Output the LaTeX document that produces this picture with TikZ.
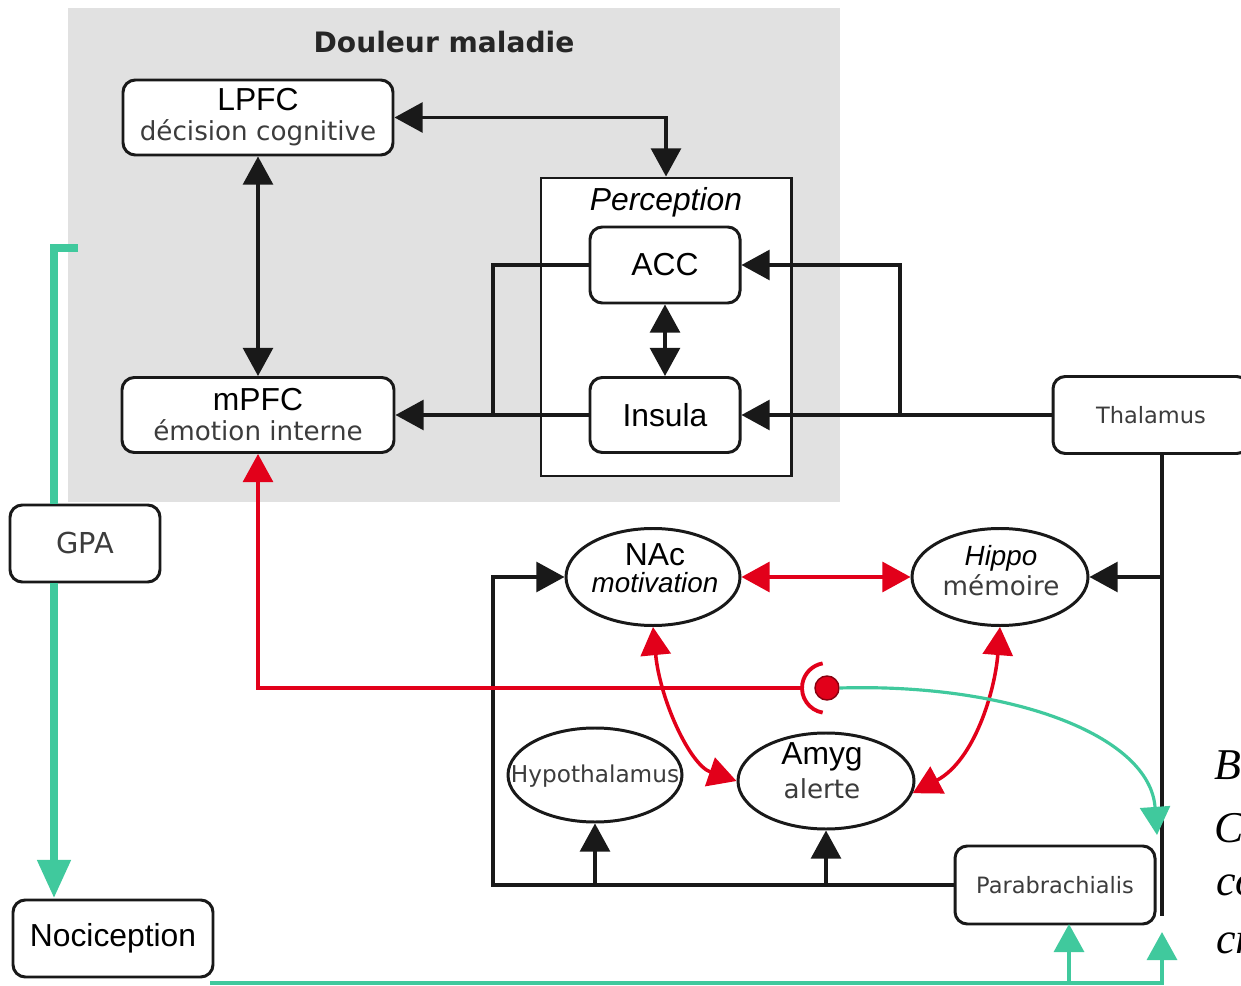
\documentclass[tikz,border=0pt]{standalone}
\usepackage{fontspec}
\usetikzlibrary{arrows.meta,shapes.geometric,calc}
\newfontfamily\arfont{Liberation Sans}
\newfontfamily\dvfont{DejaVu Sans}
\newfontfamily\serifit{Liberation Serif}
\newlength\px \setlength\px{0.2mm}
\definecolor{panelgray}{RGB}{225,225,225}
\definecolor{inkred}{RGB}{226,0,26}
\definecolor{mint}{RGB}{64,201,157}
\definecolor{ink}{RGB}{25,25,25}
\definecolor{labelgray}{RGB}{60,60,60}
\newcommand\bigsans{\arfont\fontsize{18.1}{17}\selectfont}
\newcommand\midsans{\dvfont\fontsize{14.9}{17}\selectfont\color{labelgray}}
\newcommand\smallsans{\dvfont\fontsize{12.8}{15}\selectfont}
\newcommand\itsans{\arfont\itshape\fontsize{15.8}{17}\selectfont}
\tikzset{
  box/.style={draw=ink, line width=1.7pt, rounded corners=7pt, fill=white,
    inner sep=0pt, align=center, font=\fontsize{14.9}{17}\selectfont},
  oval/.style={draw=ink, line width=1.7pt, ellipse, fill=white, inner sep=0pt},
  wire/.style={draw=ink, line width=1.8pt},
  redwire/.style={draw=inkred, line width=2pt},
  mintwire/.style={draw=mint, line width=2.3pt},
  caption/.style={anchor=base west, font=\serifit\itshape\fontsize{25}{30}\selectfont},
  >={Triangle[length=16pt,width=17pt]},
}
\begin{document}
\begin{tikzpicture}[x=0.2mm,y=-0.2mm]
\useasboundingbox (0,0) rectangle (1241,986);
\fill[white] (0,0) rectangle (1241,986);
% grey panel of the pain-disease network
\fill[panelgray] (68,8) rectangle (840,502);
\node[font=\dvfont\bfseries\fontsize{16}{18}\selectfont, text=black!85] (title) at (444,42) {Douleur maladie};

% perception frame
\node[draw=ink, line width=1.7pt, fill=white, minimum width=250\px, minimum height=298\px, inner sep=0pt] (perc) at (666,327) {};
\node[font=\arfont\itshape\fontsize{18.1}{20}\selectfont] (perclab) at (666,202) {Perception};

% boxes
\node[box, minimum width=270\px, minimum height=75\px] (lpfc) at (258,117.5) {{\bigsans LPFC}\\{\midsans décision cognitive}};
\node[box, minimum width=272\px, minimum height=75\px] (mpfc) at (258,415) {{\bigsans mPFC}\\{\midsans émotion interne}};
\node[box, minimum width=150\px, minimum height=76\px, font=\bigsans] (acc) at (665,265) {ACC};
\node[box, minimum width=150\px, minimum height=75\px, font=\bigsans] (ins) at (665,415) {Insula};
\node[box, minimum width=196\px, minimum height=77\px, font=\smallsans, text=labelgray] (thal) at (1151,415) {Thalamus};
\node[box, minimum width=150\px, minimum height=77\px, font=\dvfont\fontsize{16.4}{18}\selectfont, text=labelgray] (gpa) at (85,543.5) {GPA};
\node[box, minimum width=200\px, minimum height=77\px, font=\bigsans] (noci) at (113,938.5) {Nociception};
\node[box, minimum width=200\px, minimum height=78\px, font=\smallsans, text=labelgray] (para) at (1055,885) {Parabrachialis};

% ellipses
\node[oval, minimum width=174\px, minimum height=97\px] (nac) at (653,577) {};
\node[align=center] (nactxt) at (655,568) {{\bigsans NAc}\\[3.5pt]{\itsans motivation}};
\node[oval, minimum width=176\px, minimum height=97\px] (hippo) at (1000,577) {};
\node[align=center] (hippotxt) at (1001,571) {{\itsans Hippo}\\[1pt]{\midsans mémoire}};
\node[oval, minimum width=176\px, minimum height=96\px] (amyg) at (826,781) {};
\node[align=center] (amygtxt) at (822,771) {{\bigsans Amyg}\\[3pt]{\midsans alerte}};
\node[oval, minimum width=174\px, minimum height=94\px] (hypo) at (595,775) {};
\node[font=\dvfont\fontsize{13.2}{15}\selectfont, text=labelgray] (hypotxt) at (595,776) {Hypothalamus};

% inhibition point
\node[circle, fill=inkred, draw=inkred!60!black, line width=0.8pt, minimum size=24\px, inner sep=0pt] (dot) at (827,688) {};

% junctions
\coordinate (jl) at (493,415);
\coordinate (jr) at (900,415);
\coordinate (tcol) at (1162,0);
\coordinate (tend) at (1162,916);
\coordinate (pcol) at (493,0);
\coordinate (inh) at (802,688);
\coordinate (gbend) at (1157,835);
\coordinate (gstart) at (78,248);
\coordinate (gcol) at (54,0);
\coordinate (gbase) at (210,983);
\coordinate (pbin) at (1069,924);
\coordinate (gtipB) at (1162,932);

% cortical loop
\draw[wire,<->] (lpfc.east) -| (perc.north);
\draw[wire,<->] (lpfc.south) -- (mpfc.north);
\draw[wire,<->] (acc.south) -- (ins.north);
\draw[wire,->] (ins.west) -- (mpfc.east);
\draw[wire] (acc.west) -| (jl);
\draw[wire,->] (thal.west) -- (ins.east);
\draw[wire,->] (jr) |- (acc.east);

% thalamic and parabrachial outputs
\draw[wire] (thal.south -| tcol) -- (tend);
\draw[wire,->] (tcol |- hippo.east) -- (hippo.east);
\draw[wire,->] (para.west) -| (pcol |- nac.west) -- (nac.west);
\draw[wire,->] (para.west -| hypo.south) -- (hypo.south);
\draw[wire,->] (para.west -| amyg.south) -- (amyg.south);

% limbic loop
\draw[redwire,<->] (nac.east) -- (hippo.west);
\draw[redwire,<->] (nac.south) .. controls (660,700) and (690,765) .. (amyg.west);
\draw[redwire,<->] (hippo.south) .. controls (995,690) and (975,760) .. (amyg.-8);
\draw[redwire,->] (inh) -| (mpfc.south);
\draw[redwire, line width=2.2pt] (dot.center) ++(100:25) arc[start angle=100, end angle=260, radius=25];

% ascending nociceptive pathways
\draw[mintwire, line width=1.8pt, ->] (dot.east) .. controls (1010,683) and (1150,735) .. (gbend);
\draw[mintwire, ->] (gbase) -| (pbin);
\draw[mintwire, ->] (gbase) -| (gtipB);
\draw[mint, line width=5pt] (gstart) -| (gcol |- gpa.north);
\draw[mint, line width=5pt, -{Triangle[length=22pt,width=18pt]}] (gcol |- gpa.south) -- (gcol |- noci.north);

% caption fragments at the right margin
\node[caption] (capa) at (1208,779) {B};
\node[caption] (capb) at (1208,842) {C};
\node[caption] (capc) at (1210,895) {co};
\node[caption] (capd) at (1210,953) {cr};
\end{tikzpicture}
\end{document}
